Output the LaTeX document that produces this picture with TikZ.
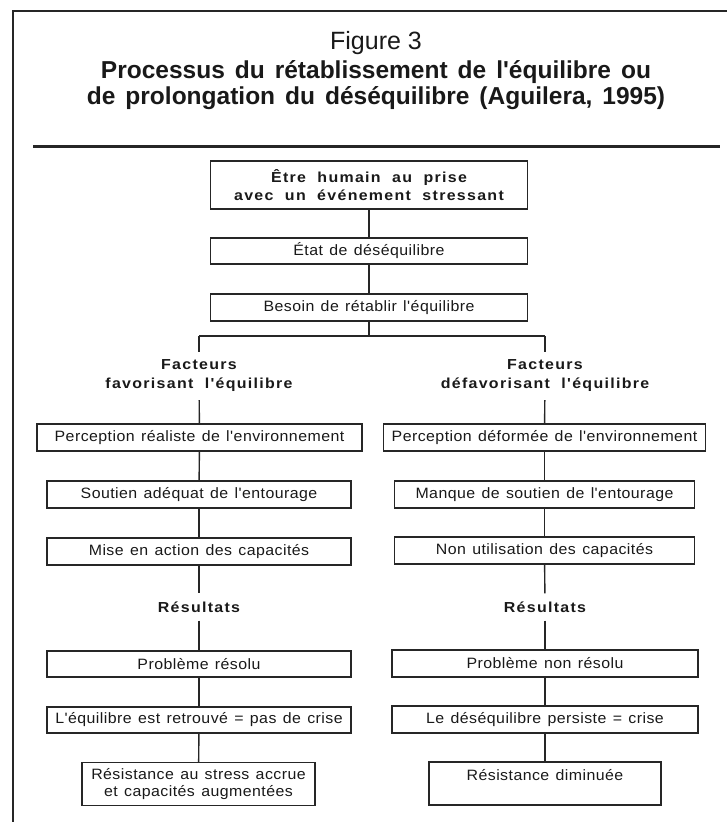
\documentclass[tikz,border=0pt]{standalone}
\usepackage{fontspec}
\setmainfont{Liberation Sans}
\newfontfamily\figfont{Liberation Sans}
\newfontfamily\boxfont[FakeStretch=1.06,LetterSpace=3,WordSpace=1.3]{Liberation Sans}
\newfontfamily\headfont[FakeStretch=1.1,LetterSpace=9,WordSpace=2]{Liberation Sans}
\newcommand\wideTitleSpaces{\spaceskip=10pt plus 1pt\relax}
\begin{document}
\begin{tikzpicture}[x=1pt,y=-1pt,
  frameline/.style={line width=2pt,draw=black!85},
  sepline/.style={line width=3pt,draw=black!85},
  link/.style={line width=1.4pt,draw=black!85},
  boxnode/.style={draw=black!85,line width=1.4pt,minimum height=27pt,inner sep=0pt,
     font=\boxfont\fontsize{15}{17}\selectfont,text=black!90,align=center},
  tallbox/.style={boxnode,minimum height=43pt},
  topbox/.style={boxnode,minimum height=48pt,font=\headfont\bfseries\fontsize{14.5}{18}\selectfont},
  headnode/.style={inner xsep=0pt,inner ysep=8pt,align=center,text=black!90,
     font=\headfont\bfseries\fontsize{14.5}{19}\selectfont},
  titlenode/.style={inner sep=0pt,text=black!90},
  titleline/.style={titlenode,anchor=base,font=\figfont\bfseries\fontsize{24.5}{28}\selectfont}
]
\useasboundingbox (0,0) rectangle (727,822);

% frame
\coordinate (ftop) at (13,11);
\coordinate (fright) at (727,11);
\coordinate (fbottom) at (13,822);
\draw[frameline] (fright) -- (ftop) -- (fbottom);

% title
\node[titlenode,anchor=base,font=\figfont\fontsize{25}{28}\selectfont] (fig) at (376,49) {Figure 3};
\node[titleline] (t1) at (376,78) {\wideTitleSpaces Processus du rétablissement de l'équilibre ou};
\node[titleline] (t2) at (376,104) {\wideTitleSpaces de prolongation du déséquilibre (Aguilera, 1995)};
\coordinate (sa) at (33,146);
\coordinate (sb) at (720,146);
\draw[sepline] (sa) -- (sb);

% central column
\node[topbox,minimum width=317pt] (a) at (369,185) {Être humain au prise\\avec un événement stressant};
\node[boxnode,minimum width=317pt,minimum height=26pt] (b) at (369,251) {État de déséquilibre};
\node[boxnode,minimum width=317pt] (c) at (369,307.5) {Besoin de rétablir l'équilibre};
\draw[link] (a) -- (b);
\draw[link] (b) -- (c);
\coordinate (jl) at (199,336);
\coordinate (jr) at (545,336);
\coordinate (jc) at (c.south |- jl);
\draw[link] (c.south) -- (jc);
\draw[link] (jl) -- (jr);

% headings
\node[headnode] (hl) at (199,376) {Facteurs\\favorisant l'équilibre};
\node[headnode] (hr) at (545,376) {Facteurs\\défavorisant l'équilibre};
\draw[link] (jl) -- (hl.north);
\draw[link] (jr) -- (hr.north);

% left column
\node[boxnode,minimum width=325pt] (l1) at (199.5,437.5) {Perception réaliste de l'environnement};
\node[boxnode,minimum width=304pt] (l2) at (199,494.5) {Soutien adéquat de l'entourage};
\node[boxnode,minimum width=304pt] (l3) at (199,551.5) {Mise en action des capacités};
\node[headnode] (rl) at (199,607) {Résultats};
\node[boxnode,minimum width=304pt,minimum height=26pt] (l4) at (199,664) {Problème résolu};
\node[boxnode,minimum width=304pt,minimum height=26pt] (l5) at (199,720) {L'équilibre est retrouvé = pas de crise};
\node[tallbox,minimum width=233pt] (l6) at (198.5,784) {Résistance au stress accrue\\et capacités augmentées};
\draw[link] (hl) -- (l1);
\draw[link] (l1) -- (l2);
\draw[link] (l2) -- (l3);
\draw[link] (l3) -- (rl);
\draw[link] (rl) -- (l4);
\draw[link] (l4) -- (l5);
\draw[link] (l5) -- (l6);

% right column
\node[boxnode,minimum width=322pt] (r1) at (544.5,437.5) {Perception déformée de l'environnement};
\node[boxnode,minimum width=300pt] (r2) at (544.5,494.5) {Manque de soutien de l'entourage};
\node[boxnode,minimum width=300pt] (r3) at (544.5,550.5) {Non utilisation des capacités};
\node[headnode] (rr) at (545,607) {Résultats};
\node[boxnode,minimum width=306pt] (r4) at (545,663.5) {Problème non résolu};
\node[boxnode,minimum width=306pt] (r5) at (545,719.5) {Le déséquilibre persiste = crise};
\node[tallbox,minimum width=232pt] (r6) at (545,783.5) {Résistance diminuée\\\mbox{}};
\draw[link] (hr) -- (r1);
\draw[link] (r1) -- (r2);
\draw[link] (r2) -- (r3);
\draw[link] (r3) -- (rr);
\draw[link] (rr) -- (r4);
\draw[link] (r4) -- (r5);
\draw[link] (r5) -- (r6);
\end{tikzpicture}
\end{document}
